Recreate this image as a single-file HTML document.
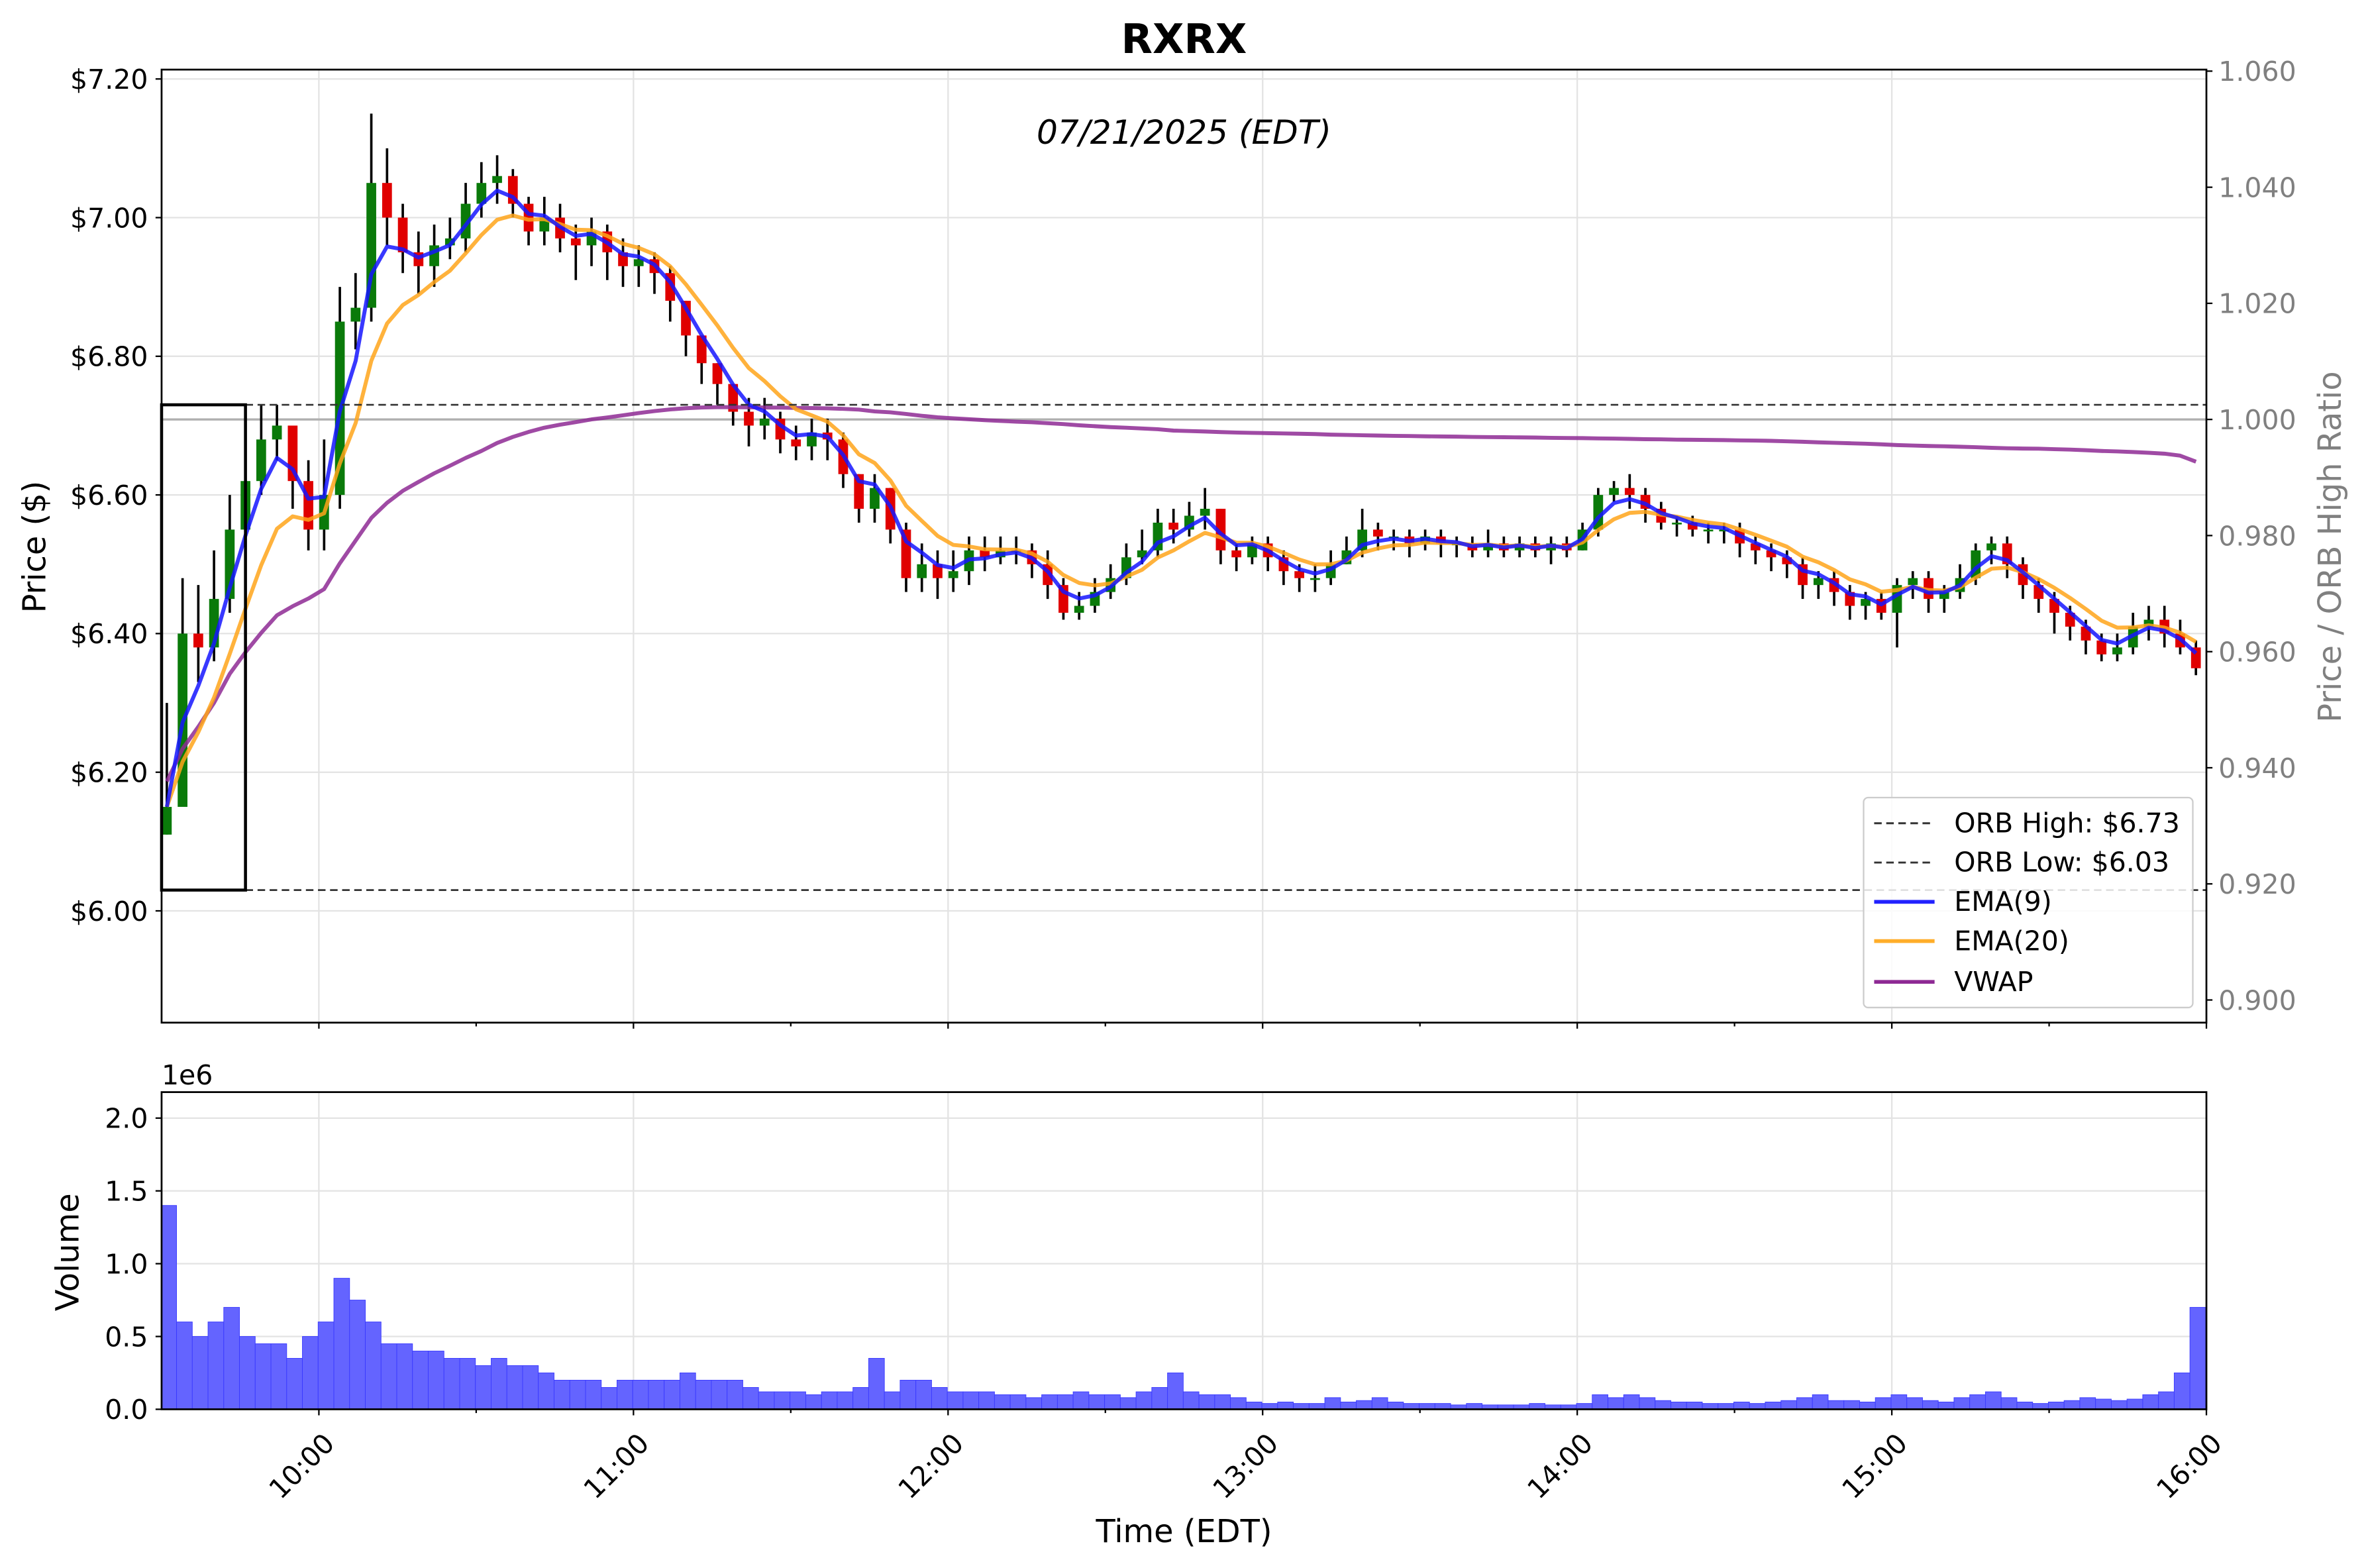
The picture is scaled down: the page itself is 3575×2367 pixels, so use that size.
<!DOCTYPE html>
<html><head><meta charset="utf-8"><style>
html,body{margin:0;padding:0;background:#fff}
svg{display:block}
text{font-family:"DejaVu Sans","Liberation Sans",sans-serif}
</style></head><body>
<svg id="chart" xmlns="http://www.w3.org/2000/svg" width="3575" height="2367" viewBox="0 0 1568 1038">
<defs><clipPath id="pc"><rect x="107" y="46" width="1354" height="631"/></clipPath>
<clipPath id="vc"><rect x="107" y="723" width="1354" height="210"/></clipPath></defs>
<rect x="0" y="0" width="1568" height="1038" fill="#fff"/>
<text x="784" y="35" font-size="27" font-weight="bold" text-anchor="middle">RXRX</text>
<g id="grid"></g>
<g id="marks"></g>
<text x="784" y="95" font-size="22" font-style="italic" text-anchor="middle">07/21/2025 (EDT)</text>
<rect x="107" y="46" width="1354" height="631" fill="none" stroke="#000" stroke-width="1.2"/>
<rect x="107" y="723" width="1354" height="210" fill="none" stroke="#000" stroke-width="1.2"/>
<g id="axes"></g>
<g>
<rect x="1234" y="528" width="218" height="139" rx="3" fill="#fff" fill-opacity="0.85" stroke="#ccc"/>
<line x1="1241" y1="545" x2="1281" y2="545" stroke="#333" stroke-width="1.3" stroke-dasharray="5,3"/><text x="1294" y="551" font-size="18">ORB High: $6.73</text>
<line x1="1241" y1="571" x2="1281" y2="571" stroke="#333" stroke-width="1.3" stroke-dasharray="5,3"/><text x="1294" y="577" font-size="18">ORB Low: $6.03</text>
<line x1="1241" y1="597" x2="1281" y2="597" stroke="#2222ff" stroke-width="2.5"/><text x="1294" y="603" font-size="18">EMA(9)</text>
<line x1="1241" y1="623" x2="1281" y2="623" stroke="#ffae2a" stroke-width="2.5"/><text x="1294" y="629" font-size="18">EMA(20)</text>
<line x1="1241" y1="650" x2="1281" y2="650" stroke="#8e2a94" stroke-width="2.5"/><text x="1294" y="656" font-size="18">VWAP</text>
</g>
<text transform="translate(30,362) rotate(-90)" font-size="21" text-anchor="middle">Price ($)</text>
<text transform="translate(1550,362) rotate(-90)" font-size="21" fill="#808080" text-anchor="middle">Price / ORB High Ratio</text>
<text transform="translate(52,829) rotate(-90)" font-size="21" text-anchor="middle">Volume</text>
<text x="107" y="718" font-size="18">1e6</text>
<text x="784" y="1021" font-size="21" text-anchor="middle">Time (EDT)</text>
</svg>
<script>
const closes=[6.15,6.40,6.38,6.45,6.55,6.62,6.68,6.70,6.62,6.55,
6.60,6.85,6.87,7.05,7.00,6.95,6.93,6.96,6.97,7.02,
7.05,7.06,7.02,6.98,7.00,6.97,6.96,6.98,6.95,6.93,
6.94,6.92,6.88,6.83,6.79,6.76,6.72,6.70,6.71,6.68,
6.67,6.69,6.68,6.63,6.58,6.61,6.55,6.48,6.50,6.48,
6.49,6.52,6.51,6.52,6.52,6.50,6.47,6.43,6.44,6.46,
6.48,6.51,6.52,6.56,6.55,6.57,6.58,6.52,6.51,6.53,
6.51,6.49,6.48,6.48,6.50,6.52,6.55,6.54,6.54,6.53,
6.54,6.53,6.53,6.52,6.53,6.52,6.53,6.52,6.53,6.52,
6.55,6.60,6.61,6.60,6.58,6.56,6.56,6.55,6.55,6.55,
6.53,6.52,6.51,6.50,6.47,6.48,6.46,6.44,6.45,6.43,
6.47,6.48,6.45,6.46,6.48,6.52,6.53,6.50,6.47,6.45,
6.43,6.41,6.39,6.37,6.38,6.41,6.42,6.40,6.38,6.35];
const highs=[6.30,6.48,6.47,6.52,6.60,6.68,6.73,6.73,6.70,6.65,
6.68,6.90,6.92,7.15,7.10,7.02,6.98,6.99,7.00,7.05,
7.08,7.09,7.07,7.03,7.03,7.02,6.99,7.00,6.99,6.97,
6.96,6.95,6.93,6.88,6.83,6.79,6.76,6.74,6.74,6.72,
6.70,6.71,6.71,6.69,6.63,6.63,6.61,6.56,6.53,6.52,
6.52,6.54,6.54,6.54,6.54,6.53,6.52,6.48,6.46,6.48,
6.50,6.53,6.55,6.58,6.58,6.59,6.61,6.58,6.53,6.54,
6.54,6.52,6.50,6.50,6.52,6.54,6.58,6.56,6.55,6.55,
6.55,6.55,6.54,6.54,6.55,6.54,6.54,6.54,6.54,6.54,
6.56,6.61,6.62,6.63,6.61,6.59,6.57,6.57,6.56,6.56,
6.56,6.54,6.53,6.52,6.51,6.49,6.49,6.47,6.46,6.46,
6.48,6.49,6.49,6.47,6.50,6.53,6.54,6.54,6.51,6.48,
6.46,6.44,6.42,6.40,6.40,6.43,6.44,6.44,6.42,6.39];
const lows=[6.11,6.15,6.33,6.36,6.43,6.53,6.60,6.65,6.58,6.52,
6.52,6.58,6.81,6.85,6.96,6.92,6.89,6.90,6.94,6.95,
7.00,7.02,7.00,6.96,6.96,6.95,6.91,6.93,6.91,6.90,
6.90,6.89,6.85,6.80,6.76,6.73,6.70,6.67,6.68,6.66,
6.65,6.65,6.65,6.61,6.56,6.56,6.53,6.46,6.46,6.45,
6.46,6.47,6.49,6.50,6.50,6.48,6.45,6.42,6.42,6.43,
6.45,6.47,6.50,6.51,6.53,6.54,6.55,6.50,6.49,6.50,
6.49,6.47,6.46,6.46,6.47,6.50,6.51,6.52,6.52,6.51,
6.52,6.51,6.51,6.51,6.51,6.51,6.51,6.51,6.50,6.51,
6.52,6.54,6.59,6.58,6.56,6.55,6.54,6.54,6.53,6.53,
6.51,6.50,6.49,6.48,6.45,6.45,6.44,6.42,6.42,6.42,
6.38,6.45,6.43,6.43,6.45,6.47,6.50,6.48,6.45,6.43,
6.40,6.39,6.37,6.36,6.36,6.37,6.39,6.38,6.37,6.34];
const volumes=[1.4,0.6,0.5,0.6,0.7,0.5,0.45,0.45,0.35,0.5,
0.6,0.9,0.75,0.6,0.45,0.45,0.4,0.4,0.35,0.35,
0.3,0.35,0.3,0.3,0.25,0.2,0.2,0.2,0.15,0.2,
0.2,0.2,0.2,0.25,0.2,0.2,0.2,0.15,0.12,0.12,
0.12,0.1,0.12,0.12,0.15,0.35,0.12,0.2,0.2,0.15,
0.12,0.12,0.12,0.1,0.1,0.08,0.1,0.1,0.12,0.1,
0.1,0.08,0.12,0.15,0.25,0.12,0.1,0.1,0.08,0.05,
0.04,0.05,0.04,0.04,0.08,0.05,0.06,0.08,0.05,0.04,
0.04,0.04,0.03,0.04,0.03,0.03,0.03,0.04,0.03,0.03,
0.04,0.1,0.08,0.1,0.08,0.06,0.05,0.05,0.04,0.04,
0.05,0.04,0.05,0.06,0.08,0.1,0.06,0.06,0.05,0.08,
0.1,0.08,0.06,0.05,0.08,0.1,0.12,0.08,0.05,0.04,
0.05,0.06,0.08,0.07,0.06,0.07,0.1,0.12,0.25,0.7];
const firstOpen=6.11;
const orbHigh=6.73, orbLow=6.03, orbMinutes=16;
const barMinutes=3;
const priceTicks=[6.00,6.20,6.40,6.60,6.80,7.00,7.20];
const ratioTicks=[0.900,0.920,0.940,0.960,0.980,1.000,1.020,1.040,1.060];
const volTicks=[0,0.5,1.0,1.5,2.0];
const timeTicks=["10:00","11:00","12:00","13:00","14:00","15:00","16:00"];

const NS="http://www.w3.org/2000/svg";
const X=m=>107+m*1354/390;
const Y=p=>603-(p-6.00)*459;
const R=r=>662-(r-0.900)*(615/0.16);
const V=v=>933-v*96.4;
function mk(tag,attrs,parent){const e=document.createElementNS(NS,tag);for(const k in attrs)e.setAttribute(k,attrs[k]);parent.appendChild(e);return e;}
const grid=document.getElementById('grid'),marks=document.getElementById('marks'),axes=document.getElementById('axes');
const tm=s=>{const [h,m]=s.split(':').map(Number);return (h-9)*60+m-30;};

priceTicks.forEach(p=>{const l=mk('line',{x1:107,x2:1461,y1:Y(p),y2:Y(p),stroke:'#e3e3e3','stroke-width':1},grid);

});
timeTicks.forEach(t=>{const x=X(tm(t));
const l=mk('line',{x1:x,x2:x,y1:46,y2:677,stroke:'#e3e3e3','stroke-width':1},grid);


const l2=mk('line',{x1:x,x2:x,y1:723,y2:933,stroke:'#e3e3e3','stroke-width':1},grid);

});
volTicks.forEach(v=>{const l=mk('line',{x1:107,x2:1461,y1:V(v),y2:V(v),stroke:'#e3e3e3','stroke-width':1},grid);

});

const r1=mk('line',{x1:107,x2:1461,y1:R(1.0),y2:R(1.0),stroke:'#b0b0b0','stroke-width':1.5},marks);



const pg=mk('g',{'clip-path':'url(#pc)'},marks);
const bw=(barMinutes*1354/390)*0.62;
let prev=firstOpen;
closes.forEach((c,i)=>{const o=prev;prev=c;
const xc=X(i*barMinutes+1);
const w=mk('line',{x1:xc,x2:xc,y1:Y(highs[i]),y2:Y(lows[i]),stroke:'#000','stroke-width':1.6},pg);


const top=Math.min(Y(o),Y(c)),h=Math.max(1.2,Math.abs(Y(o)-Y(c)));
const b=mk('rect',{x:xc-bw/2,y:top,width:bw,height:h,fill:c>=o?'#0a7a0a':'#e00000'},pg);

});

function ema(arr,span){const a=2/(span+1);let e=arr[0];return arr.map((v,i)=>i?(e=a*v+(1-a)*e):e);}
function line(vals,color,name){const d=vals.map((v,i)=>(i?'L':'M')+X(i*barMinutes+1).toFixed(1)+','+Y(v).toFixed(1)).join('');
const p=mk('path',{d:d,fill:'none',stroke:color,'stroke-width':2.6,'stroke-linejoin':'round','stroke-opacity':0.85},pg);

}
let cpv=0,cv=0;
const vwap=closes.map((c,i)=>{const tp=(highs[i]+lows[i]+c)/3;cpv+=tp*volumes[i];cv+=volumes[i];return cpv/cv;});
line(vwap,'#8e2a94','vwap-line');
line(ema(closes,6.7),'#ffa51a','ema20-line');
line(ema(closes,3.1),'#1515ff','ema9-line');

const oh=mk('line',{x1:X(orbMinutes),x2:1461,y1:Y(orbHigh),y2:Y(orbHigh),stroke:'#333','stroke-width':1.2,'stroke-dasharray':'5,3'},marks);


const ol=mk('line',{x1:X(orbMinutes),x2:1461,y1:Y(orbLow),y2:Y(orbLow),stroke:'#333','stroke-width':1.2,'stroke-dasharray':'5,3'},marks);


const ob=mk('rect',{x:107,y:Y(orbHigh),width:X(orbMinutes)-107,height:Y(orbLow)-Y(orbHigh),fill:'none',stroke:'#000','stroke-width':2},marks);



const vg=mk('g',{'clip-path':'url(#vc)'},marks);
const vw=barMinutes*1354/390;
volumes.forEach((v,i)=>{const r=mk('rect',{x:X(i*barMinutes)-0.5,y:V(v),width:vw,height:933-V(v),fill:'#6464ff',stroke:'#3a3aff','stroke-width':0.4},vg);

});

priceTicks.forEach(p=>{mk('line',{x1:103,x2:107,y1:Y(p),y2:Y(p),stroke:'#000'},axes);
const t=mk('text',{x:98,y:Y(p)+6.5,'font-size':18,'text-anchor':'end'},axes);t.textContent='$'+p.toFixed(2);

});
ratioTicks.forEach(r=>{mk('line',{x1:1461,x2:1465,y1:R(r),y2:R(r),stroke:'#000'},axes);
const t=mk('text',{x:1469,y:R(r)+6.5,'font-size':18,fill:'#808080'},axes);t.textContent=r.toFixed(3);

});
volTicks.forEach(v=>{mk('line',{x1:103,x2:107,y1:V(v),y2:V(v),stroke:'#000'},axes);
const t=mk('text',{x:98,y:V(v)+6.5,'font-size':18,'text-anchor':'end'},axes);t.textContent=v.toFixed(1);

});
for(let m=30;m<=390;m+=30){const x=X(m),major=m%60===30;const len=major?4:2.5;
mk('line',{x1:x,x2:x,y1:677,y2:677+len,stroke:'#000'},axes);
mk('line',{x1:x,x2:x,y1:933,y2:933+len,stroke:'#000'},axes);}
timeTicks.forEach(s=>{const x=X(tm(s));
const t=mk('text',{transform:`translate(${x-7},${975}) rotate(-45)`,'font-size':18,'text-anchor':'middle'},axes);t.textContent=s;

});
</script>
</body></html>
